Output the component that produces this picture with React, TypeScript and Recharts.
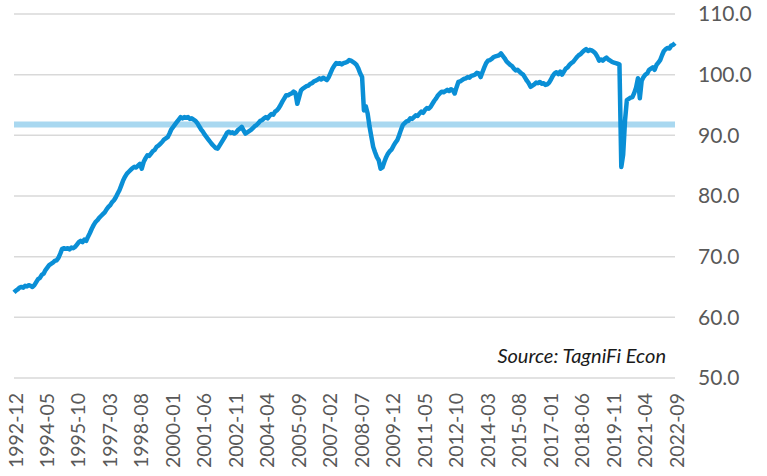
import { LineChart, Line, XAxis, YAxis, CartesianGrid, ReferenceLine } from "recharts";

// monthly index values, one row per 12 months starting 1992-12
const values = [
  64.1, 64.4, 64.6, 64.9, 65.0, 64.9, 65.2, 65.1, 65.3, 65.2, 65.0, 65.3,
  65.8, 66.3, 66.5, 67.0, 67.2, 67.8, 68.2, 68.6, 68.8, 69.0, 69.3, 69.4,
  69.8, 70.5, 71.3, 71.4, 71.3, 71.4, 71.2, 71.5, 71.4, 71.6, 72.0, 72.4,
  72.6, 72.4, 72.8, 72.6, 73.3, 73.9, 74.6, 75.2, 75.7, 76.0, 76.4, 76.7,
  77.0, 77.3, 77.8, 78.2, 78.5, 79.0, 79.3, 79.8, 80.4, 81.0, 81.8, 82.6,
  83.2, 83.7, 84.0, 84.3, 84.6, 84.8, 84.7, 85.0, 85.3, 84.5, 85.6, 86.2,
  86.7, 86.6, 87.0, 87.4, 87.6, 88.1, 88.3, 88.6, 88.9, 89.3, 89.5, 89.7,
  90.3, 91.0, 91.4, 91.8, 92.2, 92.6, 93.0, 92.8, 93.0, 92.9, 93.0, 92.7,
  92.8, 92.6, 92.4, 92.0, 91.5, 91.0, 90.6, 90.1, 89.7, 89.3, 88.9, 88.5,
  88.2, 87.9, 87.8, 88.3, 88.8, 89.3, 89.8, 90.4, 90.6, 90.4, 90.5, 90.3,
  90.5, 90.9, 91.1, 91.4, 90.8, 90.3, 90.5, 90.7, 90.9, 91.2, 91.5, 91.7,
  92.0, 92.4, 92.5, 92.8, 93.0, 92.8, 93.2, 93.5, 93.4, 93.9, 94.1, 94.5,
  95.0, 95.6, 96.1, 96.6, 96.6, 96.8, 96.9, 97.2, 97.0, 95.2, 96.3, 97.4,
  97.7, 97.9, 98.1, 98.2, 98.5, 98.6, 98.9, 99.0, 99.2, 99.4, 99.2, 99.5,
  99.3, 99.1, 99.6, 100.3, 101.0, 101.5, 101.9, 101.8, 101.9, 101.7, 101.9, 102.0,
  102.1, 102.4, 102.3, 102.1, 101.9, 101.6, 101.0, 100.2, 99.6, 94.1, 94.8, 93.6,
  91.5, 89.8, 88.1, 87.2, 86.4, 85.9, 84.5, 84.7, 85.6, 86.4, 87.0, 87.4,
  87.7, 88.3, 88.8, 89.2, 90.0, 90.9, 91.7, 92.0, 92.3, 92.4, 92.8, 92.7,
  93.0, 93.3, 93.2, 93.6, 93.9, 93.7, 94.2, 94.5, 94.4, 94.7, 95.2, 95.7,
  96.1, 96.6, 96.9, 97.2, 97.1, 97.3, 97.5, 97.3, 97.6, 97.4, 96.9, 97.9,
  98.8, 98.9, 99.1, 99.3, 99.4, 99.6, 99.5, 99.8, 99.9, 100.0, 100.3, 100.2,
  99.6, 100.4, 101.2, 101.9, 102.3, 102.4, 102.6, 102.9, 103.0, 103.1, 103.2, 103.5,
  103.1, 102.7, 102.2, 101.9, 101.6, 101.4, 101.0, 100.7, 100.8, 100.5, 100.2, 100.0,
  99.5, 99.0, 98.6, 98.0, 98.2, 98.4, 98.7, 98.6, 98.8, 98.5, 98.6, 98.3,
  98.4, 98.7, 99.2, 99.8, 100.2, 100.4, 100.1, 100.5, 100.0, 100.5, 101.0, 101.2,
  101.6, 101.9, 102.1, 102.5, 102.9, 103.2, 103.4, 103.7, 104.0, 104.2, 103.9, 104.1,
  104.0, 103.8, 103.5, 103.0, 102.3, 102.5, 102.3, 102.6, 102.8, 102.5, 102.3, 102.1,
  102.0, 101.9, 101.8, 101.7, 84.8, 86.8, 92.4, 95.8, 96.0, 96.2, 96.3, 97.0,
  97.9, 99.4, 96.1, 99.0, 99.6, 100.0, 100.2, 100.8, 101.0, 101.2, 100.8, 101.6,
  102.0, 102.4, 103.2, 103.9, 104.2, 104.4, 104.3, 104.8, 104.9, 105.2,
];

const tickLabels = [
  "1992-12", "1994-05", "1995-10", "1997-03", "1998-08", "2000-01",
  "2001-06", "2002-11", "2004-04", "2005-09", "2007-02", "2008-07",
  "2009-12", "2011-05", "2012-10", "2014-03", "2015-08", "2017-01",
  "2018-06", "2019-11", "2021-04", "2022-09",
];

const yTicks = [50, 60, 70, 80, 90, 100, 110];
const referenceValue = 91.8;
const sourceNote = "Source: TagniFi Econ";

const monthLabel = (i: number) => {
  const total = 1992 * 12 + 11 + i;
  const y = Math.floor(total / 12);
  const m = (total % 12) + 1;
  return `${y}-${m < 10 ? "0" + m : m}`;
};

const data = values.map((v, i) => ({ month: monthLabel(i), value: v }));

const XTick = ({ x, y, payload }: any) => (
  <text
    x={x + 1}
    y={y + 15}
    transform={`rotate(-90, ${x + 1}, ${y + 15})`}
    textAnchor="end"
    dominantBaseline="central"
    fill="#595959"
    fontSize={19.5}
  >
    {payload.value}
  </text>
);

export default function App() {
  return (
    <div style={{ position: "absolute", left: 0, top: 0, width: 767, height: 476, background: "#fff" }}>
      <LineChart
        width={767}
        height={476}
        data={data}
        margin={{ top: 14, right: 0, left: 14, bottom: 0 }}
        style={{ fontFamily: "Lato, sans-serif" }}
      >
        <CartesianGrid vertical={false} stroke="#d9d9d9" strokeWidth={1.5} />
        <XAxis
          dataKey="month"
          ticks={tickLabels}
          interval={0}
          axisLine={false}
          tickLine={false}
          tickSize={0}
          tickMargin={0}
          height={98}
          tick={<XTick />}
        />
        <YAxis
          orientation="right"
          domain={[50, 110]}
          ticks={yTicks}
          axisLine={false}
          tickLine={false}
          tickSize={0}
          tickMargin={23}
          width={92}
          tickFormatter={(v: number) => v.toFixed(1)}
          tick={{ fill: "#595959", fontSize: 21 }}
        />
        {/* keep the band under the series line */}
        <ReferenceLine y={referenceValue} stroke="#a9d8f0" strokeWidth={6} zIndex={0} />
        <Line
          type="linear"
          dataKey="value"
          stroke="#0a8fd6"
          strokeWidth={4.5}
          dot={false}
          strokeLinejoin="round"
          isAnimationActive={false}
        />
      </LineChart>
      <div
        style={{
          position: "absolute",
          right: 767 - 666,
          top: 343,
          fontFamily: "Lato, sans-serif",
          fontStyle: "italic",
          fontSize: 20,
          color: "#1a1a1a",
          whiteSpace: "nowrap",
        }}
      >
        {sourceNote}
      </div>
    </div>
  );
}
